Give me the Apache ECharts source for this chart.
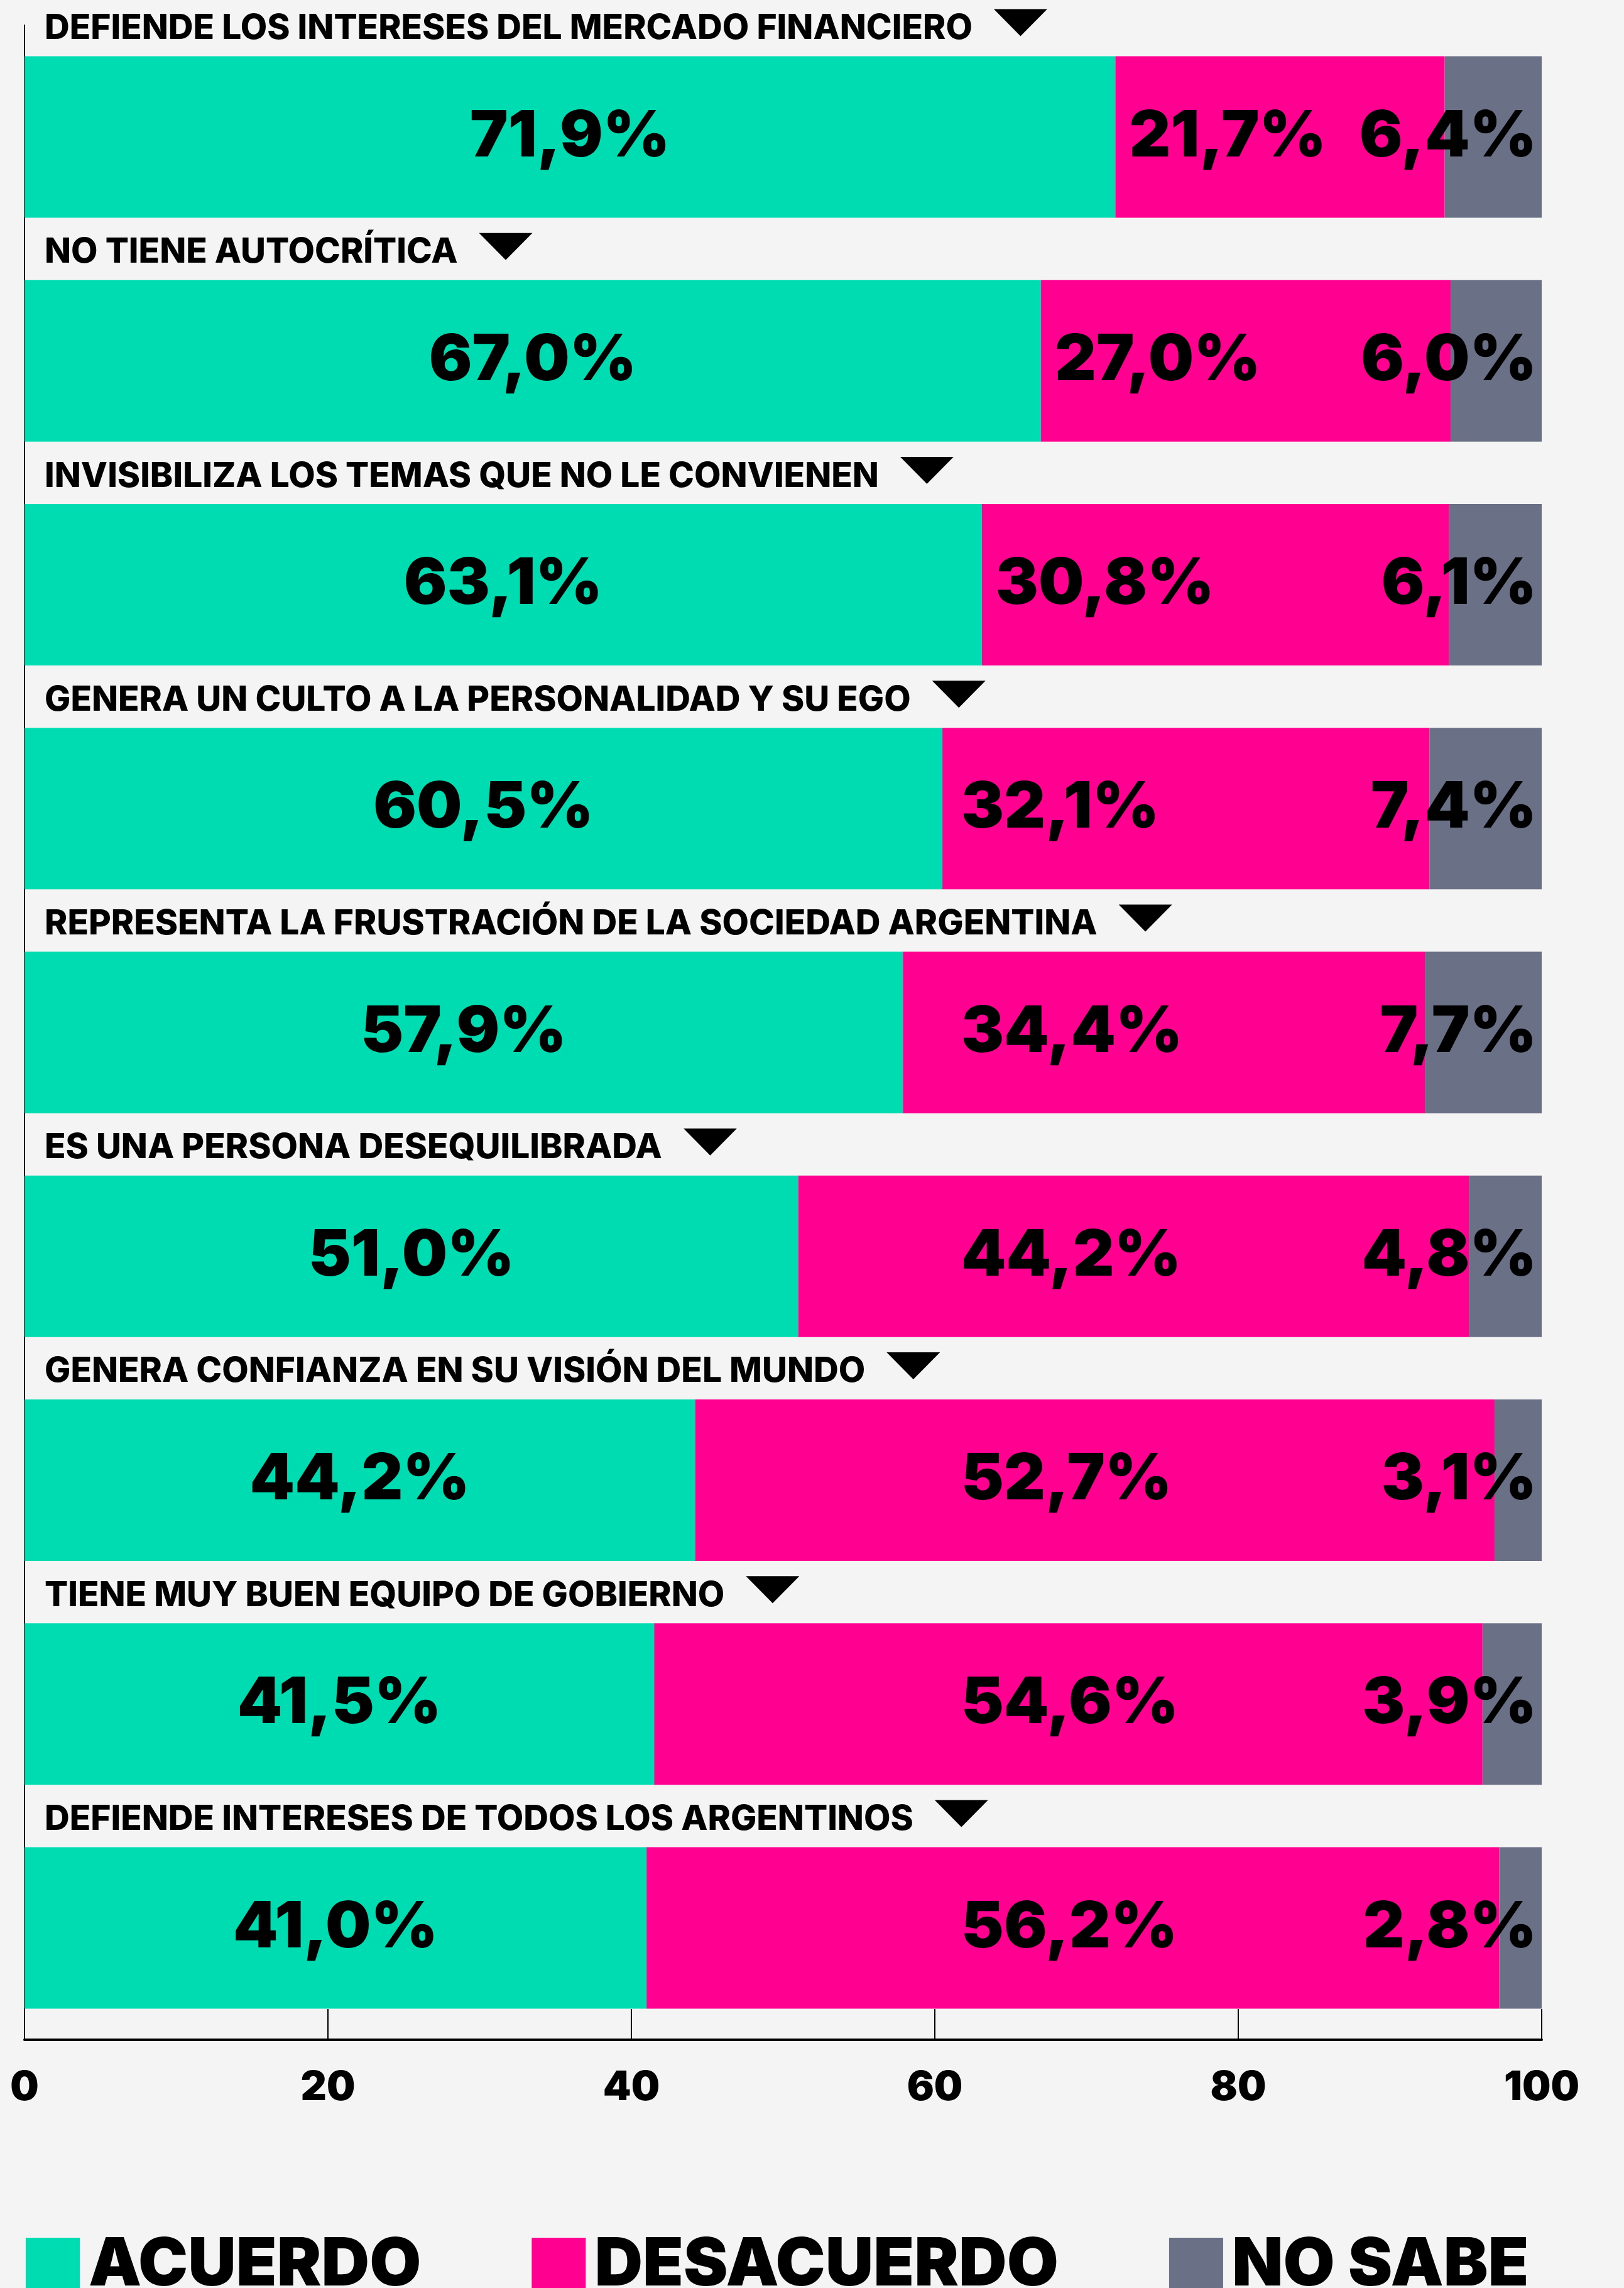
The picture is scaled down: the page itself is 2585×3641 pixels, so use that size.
<!DOCTYPE html>
<html>
<head>
<meta charset="utf-8">
<script src="https://cdn.jsdelivr.net/npm/echarts@6/dist/echarts.min.js"></script>
<style>
  html, body { margin: 0; padding: 0; background: #f4f4f4; }
  #chart { width: 2585px; height: 3641px; }
</style>
</head>
<body>
<div id="chart"></div>
<script>
const categories = [
  'DEFIENDE LOS INTERESES DEL MERCADO FINANCIERO',
  'NO TIENE AUTOCRÍTICA',
  'INVISIBILIZA LOS TEMAS QUE NO LE CONVIENEN',
  'GENERA UN CULTO A LA PERSONALIDAD Y SU EGO',
  'REPRESENTA LA FRUSTRACIÓN DE LA SOCIEDAD ARGENTINA',
  'ES UNA PERSONA DESEQUILIBRADA',
  'GENERA CONFIANZA EN SU VISIÓN DEL MUNDO',
  'TIENE MUY BUEN EQUIPO DE GOBIERNO',
  'DEFIENDE INTERESES DE TODOS LOS ARGENTINOS'
]
const acuerdo = [71.9, 67.0, 63.1, 60.5, 57.9, 51.0, 44.2, 41.5, 41.0]
const desacuerdo = [21.7, 27.0, 30.8, 32.1, 34.4, 44.2, 52.7, 54.6, 56.2]
const noSabe = [6.4, 6.0, 6.1, 7.4, 7.7, 4.8, 3.1, 3.9, 2.8]
const ticks = [0, 20, 40, 60, 80, 100]

const FONT = 'Inter, "Noto Sans", sans-serif'
const BAR_W = 257
const CAT_SIZE = 55

// ancho del texto de cada categoría, para poner el triangulito al lado
const ctx = document.createElement('canvas').getContext('2d')
ctx.font = '800 ' + CAT_SIZE + 'px Inter'
const textW = (t) => ctx.measureText(t).width

const fmt = (p) => p.value.toFixed(1).replace('.', ',') + '%'
const valLabel = {
  show: true,
  formatter: fmt,
  color: '#000',
  fontFamily: FONT,
  fontWeight: 900,
  fontSize: 102
}

let myChart = echarts.init(document.getElementById('chart'), null, { devicePixelRatio: 1 })
myChart.setOption({
  backgroundColor: '#f4f4f4',
  animation: false,
  grid: {
    left: 39,
    right: 131,
    top: 40,
    bottom: 395
  },
  legend: {
    data: ['ACUERDO', 'DESACUERDO', 'NO SABE'],
    left: 36,
    top: 3547,
    icon: 'rect',
    itemWidth: 86,
    itemHeight: 88,
    itemGap: 176,
    textStyle: {
      color: '#000',
      fontFamily: FONT,
      fontWeight: 900,
      fontSize: 106,
      lineHeight: 88,
      padding: [0, 0, 0, 9]
    }
  },
  xAxis: {
    type: 'value',
    min: 0,
    max: 100,
    interval: 20,
    axisLine: { show: true, lineStyle: { color: '#000', width: 4 } },
    axisTick: { show: true, inside: true, length: 49, lineStyle: { color: '#000', width: 2 } },
    splitLine: { show: false },
    axisLabel: {
      margin: 45,
      color: '#000',
      fontFamily: FONT,
      fontWeight: 900,
      fontSize: 64,
      formatter: (v) => (ticks.includes(v) ? String(v) : '')
    }
  },
  yAxis: {
    type: 'category',
    inverse: true,
    data: categories,
    axisLine: { show: true, lineStyle: { color: '#000', width: 2 } },
    axisTick: { show: false },
    axisLabel: { show: false },
    splitLine: { show: false }
  },
  series: [
    {
      name: 'ACUERDO',
      type: 'bar',
      stack: 'total',
      barWidth: BAR_W,
      itemStyle: { color: '#00dcb2' },
      label: { ...valLabel, position: 'inside' },
      data: acuerdo
    },
    {
      name: 'DESACUERDO',
      type: 'bar',
      stack: 'total',
      barWidth: BAR_W,
      itemStyle: { color: '#ff0090' },
      label: { ...valLabel, position: 'inside' },
      // las etiquetas rosas arrancan cerca del borde o en una columna fija
      labelLayout: (p) => ({
        x: Math.max(p.rect.x + 22, 1530),
        y: p.rect.y + p.rect.height / 2,
        align: 'left',
        verticalAlign: 'middle'
      }),
      data: desacuerdo
    },
    {
      name: 'NO SABE',
      type: 'bar',
      stack: 'total',
      barWidth: BAR_W,
      itemStyle: { color: '#6a7186' },
      label: { ...valLabel, position: 'insideRight', distance: 8 },
      data: noSabe
    },
    {
      // títulos de cada fila con el triángulo
      type: 'custom',
      silent: true,
      clip: false,
      z: 10,
      encode: { x: 0, y: 1 },
      data: categories.map((c, i) => [0, i]),
      renderItem: (params, api) => {
        const idx = api.value(1)
        const pt = api.coord([0, idx])
        const top = pt[1] - BAR_W / 2
        const name = categories[idx]
        const tx = pt[0] + 32
        const triX = tx + textW(name) + 34
        return {
          type: 'group',
          children: [
            {
              type: 'text',
              style: {
                x: tx,
                y: top - 44,
                text: name,
                fill: '#000',
                fontFamily: FONT,
                fontWeight: 800,
                fontSize: CAT_SIZE,
                align: 'left',
                verticalAlign: 'middle'
              }
            },
            {
              type: 'polygon',
              shape: { points: [[triX, top - 75], [triX + 85, top - 75], [triX + 42.5, top - 32]] },
              style: { fill: '#000' }
            }
          ]
        }
      }
    }
  ]
})
</script>
</body>
</html>
